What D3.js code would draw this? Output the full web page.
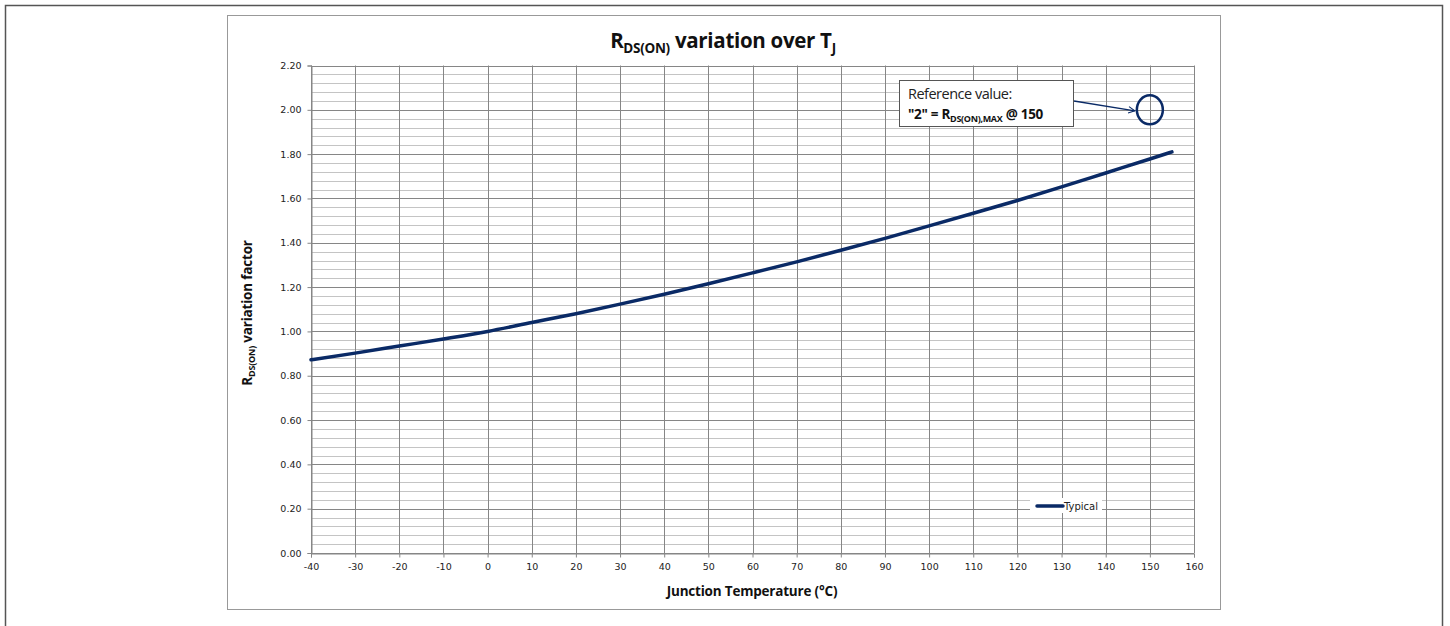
<!DOCTYPE html>
<html><head><meta charset="utf-8">
<script src="https://cdn.jsdelivr.net/npm/d3@7"></script>
<style>body{margin:0;background:#fff;}svg{display:block;}</style>
</head><body>
<svg id="c" width="1450" height="626"></svg>
<script>
const temps = [-40,-30,-20,-10,0,10,20,30,40,50,60,70,80,90,100,110,120,130,140,150,155];
const typical = [0.872,0.902,0.934,0.966,1.0,1.04,1.08,1.123,1.168,1.215,1.264,1.314,1.366,1.42,1.476,1.533,1.591,1.652,1.715,1.778,1.81];
const xTicks = d3.range(-40,161,10);
const yTicks = [0,0.2,0.4,0.6,0.8,1.0,1.2,1.4,1.6,1.8,2.0,2.2];
const refPoint = {t:150, v:2.0};
const seriesName = "Typical";

const svg = d3.select("#c");
const navy = "#0a2a66";
svg.append("rect").attr("x",5.5).attr("y",5.5).attr("width",1437).attr("height",640)
  .attr("fill","none").attr("stroke","#555").attr("stroke-width",1.5);
svg.append("rect").attr("x",227.5).attr("y",15.5).attr("width",993).attr("height",594)
  .attr("fill","#fff").attr("stroke","#999").attr("stroke-width",1);

const x = d3.scaleLinear().domain([-40,160]).range([311,1194]);
const y = d3.scaleLinear().domain([0,2.2]).range([553,65.5]);

const g = svg.append("g");
const minor = d3.range(0,2.2001,0.04).filter(v=>Math.abs(v/0.2-Math.round(v/0.2))>1e-6);
g.selectAll(".mn").data(minor).join("line")
  .attr("x1",x(-40)).attr("x2",x(160))
  .attr("y1",d=>Math.round(y(d))+0.5).attr("y2",d=>Math.round(y(d))+0.5)
  .attr("stroke","#c4c4c4").attr("stroke-width",1);
g.selectAll(".mj").data(yTicks).join("line")
  .attr("x1",x(-40)).attr("x2",x(160))
  .attr("y1",d=>Math.round(y(d))+0.5).attr("y2",d=>Math.round(y(d))+0.5)
  .attr("stroke","#868686").attr("stroke-width",1);
g.selectAll(".vv").data(xTicks).join("line")
  .attr("y1",y(0)).attr("y2",y(2.2))
  .attr("x1",d=>Math.round(x(d))+0.5).attr("x2",d=>Math.round(x(d))+0.5)
  .attr("stroke","#868686").attr("stroke-width",1);

const ax = d3.axisBottom(x).tickValues(xTicks).tickSize(4).tickPadding(6).tickFormat(d=>String(d));
const xa = svg.append("g").attr("transform",`translate(0,${Math.round(y(0))+0.5})`).call(ax);
xa.select(".domain").attr("stroke","#868686");
xa.selectAll(".tick line").attr("stroke","#868686");
xa.selectAll("text").attr("font-family","DejaVu Sans").attr("font-size","9.5px").attr("fill","#222");
const ay = d3.axisLeft(y).tickValues(yTicks).tickSize(4).tickPadding(6).tickFormat(d3.format(".2f"));
const ya = svg.append("g").attr("transform",`translate(${Math.round(x(-40))+0.5},0)`).call(ay);
ya.select(".domain").attr("stroke","#868686");
ya.selectAll(".tick line").attr("stroke","#868686");
ya.selectAll("text").attr("font-family","DejaVu Sans").attr("font-size","9.5px").attr("fill","#222");

const line = d3.line().x((d,i)=>x(temps[i])).y(d=>y(d)).curve(d3.curveMonotoneX);
svg.append("path").datum(typical).attr("d",line).attr("fill","none")
  .attr("stroke",navy).attr("stroke-width",3.5).attr("stroke-linecap","round");

const ff = "'Open Sans', 'Noto Sans', sans-serif";
const title = svg.append("text").attr("x",723).attr("y",48).attr("text-anchor","middle")
  .attr("font-family",ff).attr("font-weight","bold").attr("font-size","20.5px").attr("fill","#111")
  .attr("letter-spacing","-0.3px");
title.append("tspan").text("R");
title.append("tspan").attr("font-size","13.5px").attr("dy",5).text("DS(ON)");
title.append("tspan").attr("dy",-5).text(" variation over T");
title.append("tspan").attr("font-size","13.5px").attr("dy",5).text("J");

const yt = svg.append("text").attr("transform","translate(252,313) rotate(-90)").attr("text-anchor","middle")
  .attr("font-family",ff).attr("font-weight","bold").attr("font-size","13.5px").attr("fill","#111")
  .attr("letter-spacing","-0.2px");
yt.append("tspan").text("R");
yt.append("tspan").attr("font-size","9px").attr("dy",3).text("DS(ON)");
yt.append("tspan").attr("dy",-3).text(" variation factor");

svg.append("text").attr("x",752).attr("y",596).attr("text-anchor","middle")
  .attr("font-family",ff).attr("font-weight","bold").attr("font-size","13.5px").attr("fill","#111")
  .attr("letter-spacing","-0.2px").text("Junction Temperature (°C)");

svg.append("rect").attr("x",1030).attr("y",498).attr("width",72).attr("height",15).attr("fill","#fff");
svg.append("line").attr("x1",1037).attr("x2",1063).attr("y1",506).attr("y2",506)
  .attr("stroke",navy).attr("stroke-width",3.5).attr("stroke-linecap","round");
svg.append("text").attr("x",1064).attr("y",510).attr("font-family","DejaVu Sans").attr("font-size","10px")
  .attr("fill","#222").text(seriesName);

svg.append("ellipse").attr("cx",x(refPoint.t)).attr("cy",y(refPoint.v)).attr("rx",13).attr("ry",14.5)
  .attr("fill","none").attr("stroke",navy).attr("stroke-width",2.5);

svg.append("defs").append("marker").attr("id","arr").attr("viewBox","0 0 10 10").attr("refX",9).attr("refY",5)
  .attr("markerWidth",8).attr("markerHeight",8).attr("orient","auto").attr("markerUnits","userSpaceOnUse")
  .append("path").attr("d","M1,1 L9,5 L1,9").attr("fill","none").attr("stroke",navy).attr("stroke-width",1.4);
svg.append("line").attr("x1",1074).attr("y1",101).attr("x2",x(refPoint.t)-15).attr("y2",y(refPoint.v)+1)
  .attr("stroke",navy).attr("stroke-width",1.4).attr("marker-end","url(#arr)");

svg.append("rect").attr("x",899.5).attr("y",80.5).attr("width",174).attr("height",46)
  .attr("fill","#fff").attr("stroke","#555").attr("stroke-width",1);
svg.append("text").attr("x",908).attr("y",99).attr("font-family",ff).attr("font-size","14.5px")
  .attr("fill","#222").attr("letter-spacing","-0.5px").text("Reference value:");
const t2 = svg.append("text").attr("x",908).attr("y",119).attr("font-family",ff).attr("font-weight","bold")
  .attr("font-size","13.5px").attr("fill","#111").attr("letter-spacing","-0.3px");
t2.append("tspan").text("\"2\" = R");
t2.append("tspan").attr("font-size","9px").attr("dy",3).text("DS(ON),MAX");
t2.append("tspan").attr("dy",-3).text(" @ 150");
</script>
</body></html>
